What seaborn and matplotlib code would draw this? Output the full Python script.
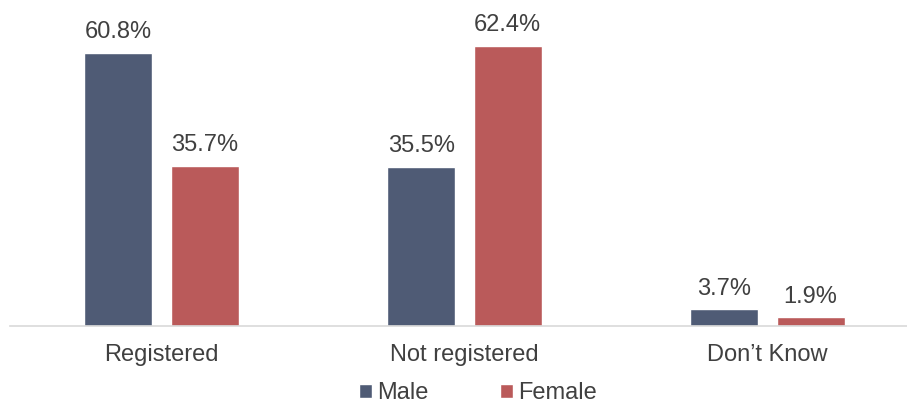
import matplotlib
matplotlib.use("Agg")
import matplotlib.pyplot as plt
import seaborn as sns
import pandas as pd
from matplotlib.patches import Patch

categories = ["Registered", "Not registered", "Don\u2019t Know"]
male = [60.8, 35.5, 3.7]
female = [35.7, 62.4, 1.9]
series = ["Male", "Female"]
colors = ["#4F5B75", "#BA5A5A"]

df = pd.DataFrame({
    "category": categories * 2,
    "group": [series[0]] * 3 + [series[1]] * 3,
    "value": male + female,
})

sns.set_theme(style="white")
plt.rcParams["font.family"] = ["Liberation Sans", "DejaVu Sans"]
text_color = "#404040"

fig = plt.figure(figsize=(9.07, 4.05), dpi=100)
ax = fig.add_axes([10 / 907, 1 - 326 / 405, 909 / 907, 310 / 405])

sns.barplot(data=df, x="category", y="value", hue="group", order=categories,
            hue_order=series, palette=colors, width=0.568, gap=0.21,
            saturation=1, ax=ax, legend=False)

ax.set_xlim(-0.5, 2.5)
ax.set_ylim(0, 310 / 4.49)
for container in ax.containers:
    ax.bar_label(container, labels=[f"{v:.1f}%" for v in container.datavalues],
                 padding=7, fontsize=17, color=text_color)

ax.set_xlabel("")
ax.set_ylabel("")
ax.set_yticks([])
ax.tick_params(axis="x", length=0, pad=13, labelsize=17, labelcolor=text_color)
for side in ["top", "right", "left"]:
    ax.spines[side].set_visible(False)
ax.spines["bottom"].set_color("#D9D9D9")
ax.spines["bottom"].set_linewidth(1.2)

handles = [Patch(facecolor=c, label=s) for c, s in zip(colors, series)]
fig.legend(handles=handles, loc="center", bbox_to_anchor=(478 / 907, 1 - 393 / 405),
           ncol=2, frameon=False, fontsize=17, handlelength=0.55, handleheight=0.55,
           handletextpad=0.2, columnspacing=3.05, labelcolor=text_color,
           borderpad=0, borderaxespad=0)

fig.savefig("out.png", dpi=100)
